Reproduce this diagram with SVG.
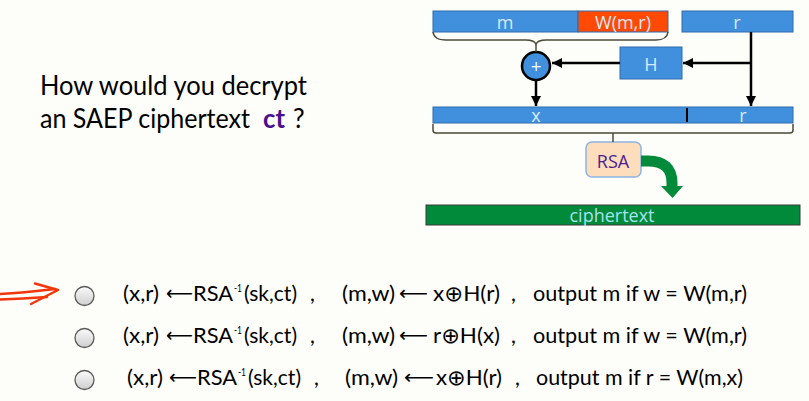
<svg xmlns="http://www.w3.org/2000/svg" width="809" height="401" viewBox="0 0 809 401">
<defs>
<style>
.bx{fill:#4190DD;stroke:#2E6DAE;stroke-width:1}
.lbl{font-family:"Open Sans","DejaVu Sans",sans-serif;font-size:18px;fill:#D8E9F8;text-anchor:middle}
.con{stroke:#000;stroke-width:2.5;fill:none}
.brace{stroke:#4a4a3a;stroke-width:1.5;fill:none}
.q{font-family:Lato,"Open Sans","DejaVu Sans",sans-serif;font-size:26px;fill:#000}
.t{font-family:Lato,"Open Sans","DejaVu Sans",sans-serif;font-size:21.5px;fill:#000}
.ar{font-family:"DejaVu Sans",sans-serif;font-size:20px;fill:#000}
.sup{font-family:Lato,"Open Sans","DejaVu Sans",sans-serif;font-size:12px;fill:#000}
.radio{fill:url(#rg);stroke:#5a5a5a;stroke-width:1.3}
</style>
<linearGradient id="rg" x1="0" y1="0" x2="0" y2="1">
<stop offset="0" stop-color="#FAFAFA"/>
<stop offset="1" stop-color="#CFCFCF"/>
</linearGradient>
<marker id="ah" viewBox="0 0 10 10" refX="10" refY="5" markerWidth="10" markerHeight="10" markerUnits="userSpaceOnUse" orient="auto">
<path d="M0,0 L10,5 L0,10 z" fill="#000"/>
</marker>
</defs>
<rect width="809" height="401" fill="#FDFDF9"/>

<g id="question">
<text class="q" x="40" y="95" textLength="267" lengthAdjust="spacingAndGlyphs">How would you decrypt</text>
<text class="q" x="40" y="128" textLength="210" lengthAdjust="spacingAndGlyphs">an SAEP ciphertext</text>
<text class="q" x="263" y="128" font-weight="bold" style="fill:#4B0F8C" textLength="22" lengthAdjust="spacingAndGlyphs">ct</text>
<text class="q" x="293" y="128">?</text>
</g>

<g id="node-m"><rect class="bx" x="433" y="11" width="145" height="21"/><text class="lbl" x="505" y="29">m</text></g>
<g id="node-W"><rect x="578" y="11" width="90" height="21" fill="#FF4A05" stroke="#2E6DAE" stroke-width="1"/><text class="lbl" x="623" y="29">W(m,r)</text></g>
<g id="node-r"><rect class="bx" x="682" y="11" width="111" height="21"/><text class="lbl" x="737" y="29">r</text></g>
<g id="node-H"><rect class="bx" x="620" y="47" width="62" height="32"/><text class="lbl" x="651" y="71">H</text></g>
<g id="node-xor"><circle cx="536" cy="66" r="14" fill="#4190DD" stroke="#000" stroke-width="2.5"/><text x="536" y="71" font-family="'DejaVu Sans',sans-serif" font-size="14" fill="#fff" text-anchor="middle">+</text></g>
<g id="node-xr">
<rect class="bx" x="433" y="107" width="360" height="16"/>
<line x1="687" y1="108" x2="687" y2="122" stroke="#000" stroke-width="2"/>
<text class="lbl" x="536" y="122">x</text>
<text class="lbl" x="743" y="122">r</text>
</g>
<g id="node-rsa"><rect x="586" y="142" width="55" height="35" rx="6" fill="#FDDDBB" stroke="#8DB4E2" stroke-width="1.5"/><text class="lbl" x="613" y="168" style="fill:#4B1D8F">RSA</text></g>
<g id="node-ct"><rect x="426" y="205" width="374" height="20" fill="#008A3A" stroke="#3a3a3a" stroke-width="1"/><text class="lbl" x="612" y="222" style="fill:#A6E2EE">ciphertext</text></g>

<g id="connectors">
<path class="brace" d="M433,32 Q434,40 446,40 L526,40 Q534,40 536,44 Q538,40 546,40 L656,40 Q667,40 668,32"/>
<line class="brace" x1="536" y1="44" x2="536" y2="52" stroke="#000"/>
<path class="con" d="M620,63 L552,63" marker-end="url(#ah)"/>
<path class="con" d="M751,32 L751,106" marker-end="url(#ah)"/>
<path class="con" d="M751,63 L683,63" marker-end="url(#ah)"/>
<path class="con" d="M536,81 L536,106" marker-end="url(#ah)"/>
<path class="brace" d="M433,124 L433,130 Q433,133 436,133 L790,133 Q793,133 793,130 L793,124"/>
<line class="brace" x1="613" y1="133" x2="613" y2="142"/>
<path d="M641,161 L648,161 Q672,161 672,183 L672,188" fill="none" stroke="#008A3A" stroke-width="11"/>
<path d="M661,186 L683,186 L672.5,198 z" fill="#008A3A"/>
</g>

<g id="red-arrow" fill="none" stroke="#F2360B" stroke-width="2.5" stroke-linecap="round" stroke-linejoin="round">
<path d="M0,294 C20,293 38,291 55,289"/>
<path d="M0,299.5 C18,299 34,298 47,297"/>
<path d="M35,283.5 L58,290 L31,304"/>
</g>

<g id="option1">
<circle class="radio" cx="84.5" cy="296" r="9.5"/>
<text class="t" x="123" y="301" textLength="36" lengthAdjust="spacingAndGlyphs">(x,r)</text>
<text class="ar" x="166" y="300" textLength="27" lengthAdjust="spacingAndGlyphs">⟵</text>
<text class="t" x="193" y="301" textLength="40" lengthAdjust="spacingAndGlyphs">RSA</text>
<text class="sup" x="234" y="292" textLength="8" lengthAdjust="spacingAndGlyphs">-1</text>
<text class="t" x="244" y="301" textLength="53" lengthAdjust="spacingAndGlyphs">(sk,ct)</text>
<text class="t" x="310" y="301">,</text>
<text class="t" x="342" y="301" textLength="53" lengthAdjust="spacingAndGlyphs">(m,w)</text>
<text class="ar" x="399" y="300" textLength="29" lengthAdjust="spacingAndGlyphs">⟵</text>
<text class="t" x="433" y="301" textLength="67" lengthAdjust="spacingAndGlyphs">x⊕H(r)</text>
<text class="t" x="511" y="301">,</text>
<text class="t" x="533" y="301" textLength="214" lengthAdjust="spacingAndGlyphs">output m if w = W(m,r)</text>
</g>

<g id="option2">
<circle class="radio" cx="84.5" cy="338" r="9.5"/>
<text class="t" x="123" y="343" textLength="36" lengthAdjust="spacingAndGlyphs">(x,r)</text>
<text class="ar" x="166" y="342" textLength="27" lengthAdjust="spacingAndGlyphs">⟵</text>
<text class="t" x="193" y="343" textLength="40" lengthAdjust="spacingAndGlyphs">RSA</text>
<text class="sup" x="234" y="334" textLength="8" lengthAdjust="spacingAndGlyphs">-1</text>
<text class="t" x="244" y="343" textLength="53" lengthAdjust="spacingAndGlyphs">(sk,ct)</text>
<text class="t" x="310" y="343">,</text>
<text class="t" x="342" y="343" textLength="53" lengthAdjust="spacingAndGlyphs">(m,w)</text>
<text class="ar" x="399" y="342" textLength="29" lengthAdjust="spacingAndGlyphs">⟵</text>
<text class="t" x="433" y="343" textLength="67" lengthAdjust="spacingAndGlyphs">r⊕H(x)</text>
<text class="t" x="511" y="343">,</text>
<text class="t" x="533" y="343" textLength="214" lengthAdjust="spacingAndGlyphs">output m if w = W(m,r)</text>
</g>

<g id="option3">
<circle class="radio" cx="84.5" cy="380" r="9.5"/>
<text class="t" x="127" y="385" textLength="36" lengthAdjust="spacingAndGlyphs">(x,r)</text>
<text class="ar" x="169" y="384" textLength="28" lengthAdjust="spacingAndGlyphs">⟵</text>
<text class="t" x="197" y="385" textLength="40" lengthAdjust="spacingAndGlyphs">RSA</text>
<text class="sup" x="238" y="376" textLength="8" lengthAdjust="spacingAndGlyphs">-1</text>
<text class="t" x="248" y="385" textLength="53" lengthAdjust="spacingAndGlyphs">(sk,ct)</text>
<text class="t" x="314" y="385">,</text>
<text class="t" x="345" y="385" textLength="53" lengthAdjust="spacingAndGlyphs">(m,w)</text>
<text class="ar" x="404" y="384" textLength="30" lengthAdjust="spacingAndGlyphs">⟵</text>
<text class="t" x="436" y="385" textLength="66" lengthAdjust="spacingAndGlyphs">x⊕H(r)</text>
<text class="t" x="515" y="385">,</text>
<text class="t" x="536" y="385" textLength="207" lengthAdjust="spacingAndGlyphs">output m if r = W(m,x)</text>
</g>
</svg>
